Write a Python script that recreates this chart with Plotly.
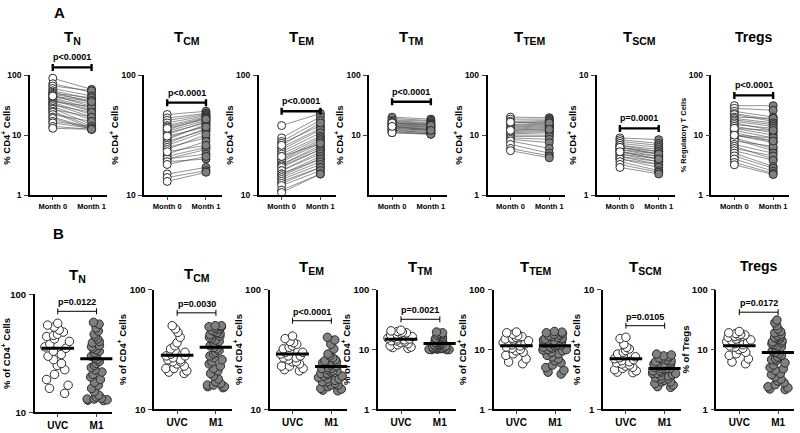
import numpy as np
import plotly.graph_objects as go

W, H = 800, 433
FONT = "Liberation Sans, Arial, sans-serif"

titles = ["T<sub>N</sub>", "T<sub>CM</sub>", "T<sub>EM</sub>", "T<sub>TM</sub>",
          "T<sub>TEM</sub>", "T<sub>SCM</sub>", "Tregs"]

# ---- panel A: paired Month 0 / Month 1 ----
groups_a = ["Month 0", "Month 1"]
tn_m0 = [89, 72, 66, 60, 55, 52, 50, 48, 46, 44, 42, 40, 38, 36, 35, 33, 32, 30, 28, 27,
         25, 24, 22, 20, 19, 17, 16, 14, 13, 45]
tn_m1 = [58, 52, 55, 45, 40, 35, 42, 38, 30, 33, 28, 26, 25, 30, 22, 20, 24, 18, 15, 20,
         14, 13, 17, 13, 12.5, 14, 13, 12.5, 12.5, 36]
tcm_m0 = [47, 44, 42, 40, 38, 37, 35, 34, 33, 32, 30, 29, 28, 27, 26, 25, 24, 22, 21, 20,
          20, 19, 18, 15, 14, 13, 36, 31, 23]
tcm_m1 = [50, 48, 47, 46, 45, 44, 44, 42, 40, 41, 38, 39, 35, 36, 34, 30, 32, 28, 25, 24,
          22, 20, 21, 17, 16, 15.5, 43, 37, 26]
tem_m0 = [38, 30, 28, 27, 25, 24, 23, 22, 21, 20, 19.5, 19, 18, 18, 17.5, 17, 16, 16, 15, 15,
          14.5, 14, 13.5, 13, 12.5, 12, 11, 10.5, 26, 21]
tem_m1 = [48, 45, 42, 38, 36, 35, 33, 31, 30, 29, 28, 27, 26, 25, 24, 24, 23, 22, 21, 20,
          20, 19, 18, 17, 17, 16, 15, 15, 40, 27]
ttm_m0 = [20, 19, 18, 17.5, 17, 16.5, 16, 15.5, 15, 15, 14.5, 14, 14, 13.5, 13, 13, 12.5, 12,
          12, 11.5, 11, 11, 16, 14]
ttm_m1 = [18.5, 17.5, 17, 16, 15.5, 15, 15, 14.5, 14, 13.5, 13.5, 13, 12.5, 12.5, 12, 12, 11.5,
          11, 11, 10.5, 10.5, 10.3, 14.5, 12]
ttem_m0 = [20, 18.5, 17, 16, 15, 14.5, 14, 13.5, 13, 12.5, 12, 11.5, 11, 10.5, 10, 9.5, 9, 8.5,
           8, 7, 6, 5.5, 16.5, 12]
ttem_m1 = [19.5, 18.5, 17.5, 17, 16, 15.5, 15, 14.5, 14, 13.5, 13, 12, 11.5, 11, 10, 9.5, 8.5,
           7.5, 6, 5, 4.5, 4.2, 16, 12.5]
tscm_m0 = [3.0, 2.9, 2.8, 2.7, 2.6, 2.6, 2.5, 2.5, 2.4, 2.4, 2.3, 2.3, 2.2, 2.2, 2.1, 2.1, 2.0,
           2.0, 1.9, 1.8, 1.7, 2.5, 2.3]
tscm_m1 = [2.9, 2.7, 2.6, 2.5, 2.4, 2.3, 2.3, 2.2, 2.2, 2.1, 2.1, 2.0, 2.0, 1.9, 1.9, 1.8, 1.8,
           1.7, 1.6, 1.55, 1.5, 2.2, 2.0]
treg_m0 = [31, 28, 25, 23, 22, 20, 19, 18, 17, 16, 15, 14, 13, 12, 11, 10, 10, 9, 8.5, 8, 7,
           6.5, 6, 5.5, 5, 4.5, 4, 3.5, 3.2, 13, 10]
treg_m1 = [31, 26, 20, 18, 17, 19, 16, 15, 14, 12, 13, 11, 10, 9, 8, 7.5, 9, 6, 5.5, 6.5, 5, 4,
           4.5, 3.8, 3, 2.8, 2.5, 2.3, 2.2, 12, 8]
pairs_a = [(tn_m0, tn_m1), (tcm_m0, tcm_m1), (tem_m0, tem_m1), (ttm_m0, ttm_m1),
           (ttem_m0, ttem_m1), (tscm_m0, tscm_m1), (treg_m0, treg_m1)]
pval_a = ["p<0.0001", "p<0.0001", "p<0.0001", "p<0.0001", None, "p=0.0001", "p<0.0001"]
bracket_a = [135, 59, 50, 36, None, 3.6, 46]
yrange_a = [(1, 100), (10, 100), (10, 100), (1, 100), (1, 100), (1, 10), (1, 100)]
ytitle_a = ["% CD4<sup>+</sup> Cells"] * 6 + ["% Regulatory T Cells"]

# ---- panel B: UVC vs M1 ----
groups_b = ["UVC", "M1"]
tn_uvc = [57, 55, 53, 50, 48, 46, 45, 44, 42, 40, 38, 36, 35, 33, 31, 30, 28, 26, 25, 23, 21,
          19, 17, 16, 14.5]
tn_m1b = [58, 56, 52, 49, 46, 44, 42, 40, 39, 37, 36, 35, 34, 33, 32, 31, 30, 29, 28, 27, 26,
          25, 24, 23, 22, 21, 20, 19, 18, 17, 16, 15, 14, 13.5, 13, 13, 12.8, 12.7, 12.6, 13.2]
tcm_uvc = [50, 47, 44, 40, 36, 34, 32, 31, 30, 29, 28, 28, 27, 26, 26, 25, 25, 24, 23, 22, 22,
           21, 20.5, 20]
tcm_m1b = [50, 50, 49, 49, 48, 47, 46, 45, 44, 43, 42, 41, 40, 39, 38, 37, 36, 35, 34, 33, 32,
           31, 30, 29, 28, 27, 26, 25, 24, 23, 22, 21, 20, 19, 18, 17, 16.5, 16, 15.5, 15.2,
           15.5, 16]
tem_uvc = [41, 39, 37, 36, 35, 34, 33, 32, 31, 30, 30, 29, 28, 28, 27, 27, 26, 25, 25, 24, 23,
           23, 22, 21.5, 21]
tem_m1b = [40, 38, 35, 32, 29, 28, 27, 26, 25.5, 25, 24.5, 24, 23.5, 23, 22.5, 22, 22, 21.5, 21,
           21, 20.5, 20, 20, 19.5, 19, 19, 18.5, 18, 18, 17.5, 17, 17, 16.5, 16, 16, 15.5, 15,
           14.8, 14.5, 14.3]
ttm_uvc = [21, 20.5, 20, 19.5, 19, 18.5, 18, 17.5, 17, 16.5, 16, 15.5, 15, 15, 14.5, 14, 14,
           13.5, 13, 12.5, 12, 11.5, 11, 10.8, 10.5]
ttm_m1b = [19.6, 19, 18.5, 18, 17.5, 17, 16.5, 16, 15.5, 15, 14.8, 14.5, 14.2, 14, 13.8, 13.5,
           13.2, 13, 12.8, 12.5, 12.2, 12, 11.8, 11.5, 11.2, 11, 10.8, 10.6, 10.5, 10.4, 10.3,
           10.2, 10.1, 10, 10, 10, 10.2, 10.4, 11, 12]
ttem_uvc = [19.6, 19, 18, 17, 16.5, 16, 15.5, 15, 14.5, 14, 13.5, 13, 12.5, 12, 11.5, 11, 10.5,
            10, 9.5, 9, 8.5, 8, 7, 6.2, 5.8]
ttem_m1b = [20, 19.5, 19, 18.5, 18, 17.5, 17, 16.5, 16, 15.5, 15, 15, 14.5, 14, 14, 13.5, 13, 13,
            12.5, 12, 12, 11.5, 11, 11, 10.5, 10, 10, 9.5, 9, 8.5, 8, 7.5, 7, 6.5, 6, 5.5, 5,
            4.5, 4.2, 3.9, 9.8, 12.8]
tscm_uvc = [4.0, 3.9, 3.5, 3.3, 3.2, 3.1, 3.0, 2.9, 2.8, 2.75, 2.7, 2.65, 2.6, 2.55, 2.5, 2.45,
            2.4, 2.35, 2.3, 2.25, 2.2, 2.15, 2.1, 2.05, 2.03]
tscm_m1b = [2.9, 2.85, 2.8, 2.75, 2.7, 2.65, 2.6, 2.55, 2.5, 2.45, 2.4, 2.4, 2.35, 2.3, 2.3, 2.25,
            2.2, 2.2, 2.15, 2.1, 2.1, 2.05, 2.0, 2.0, 1.95, 1.9, 1.9, 1.85, 1.8, 1.8, 1.75, 1.7,
            1.7, 1.65, 1.6, 1.55, 1.53, 2.0, 2.2, 2.4]
treg_uvc = [20, 19, 18.5, 18, 17.5, 17, 16.5, 16, 15, 14.5, 14, 13.5, 13, 12.5, 12, 11.5, 11,
            10.5, 10, 9, 8.5, 8, 7, 6.2, 5.8]
treg_m1b = [31, 28, 25, 22, 20, 19, 18, 17, 16.5, 16, 15.5, 15, 14, 13.5, 13, 12.5, 12, 11.5, 11,
            10.5, 10, 9.5, 9, 8.5, 8, 7.5, 7, 6.8, 6.5, 6, 5.5, 5, 4.8, 4.5, 4, 3.8, 3.5, 3.2,
            3, 2.8, 2.6, 2.4, 2.3, 2.2, 2.15]
sets_b = [(tn_uvc, tn_m1b), (tcm_uvc, tcm_m1b), (tem_uvc, tem_m1b), (ttm_uvc, ttm_m1b),
          (ttem_uvc, ttem_m1b), (tscm_uvc, tscm_m1b), (treg_uvc, treg_m1b)]
means_b = [(35, 28.5), (28.3, 33), (29, 22.8), (14.9, 12.6), (11.6, 11.6), (2.65, 2.2), (11.6, 8.9)]
pval_b = ["p=0.0122", "p=0.0030", "p<0.0001", "p=0.0021", None, "p=0.0105", "p=0.0172"]
bracket_b = [72, 64, 55, 32, None, 5.0, 42]
yrange_b = [(10, 100), (10, 100), (10, 100), (1, 100), (1, 100), (1, 10), (1, 100)]
ytitle_b = ["% of CD4<sup>+</sup> Cells"] * 6 + ["% of Tregs"]

# ---- layout positions (pixels) ----
xa = [26, 141, 256, 367, 486, 596, 711]
xb = [31, 151, 267, 376, 492, 602, 716]
ya = [(71, 194)] * 7
yb = [(296, 417)] + [(291, 414)] * 6
title_ya = [32] * 7
title_yb = [277, 275, 268, 268, 268, 268, 267]
PW = 78
XR = [-0.59, 1.41]

WHITE_MK = dict(color="white", size=8, line=dict(color="#2b2b2b", width=1))
GRAY_MK = dict(color="#808080", size=8, line=dict(color="#2b2b2b", width=1))

fig = go.Figure()
layout = dict(width=W, height=H, margin=dict(l=0, r=0, t=0, b=0),
              plot_bgcolor="white", paper_bgcolor="white", showlegend=False,
              font=dict(family=FONT, color="black"))
annotations, shapes = [], []


def sfx(n):
    return "" if n == 1 else str(n)


def axis_pair(n, x0px, ypx, yr, ytitle, ticktext, top, ytick_hide=None):
    xd = [x0px / W, (x0px + PW) / W]
    yd = [1 - ypx[1] / H, 1 - ypx[0] / H]
    lo, hi = np.log10(yr[0]), np.log10(yr[1])
    tv = [v for v in (1, 10, 100) if yr[0] <= v <= yr[1] and v != ytick_hide]
    ax = dict(domain=xd, anchor="y" + sfx(n), range=XR, tickvals=[0, 1],
              ticktext=ticktext, showline=True, linecolor="black", linewidth=1.6,
              ticks="outside", ticklen=3, tickwidth=1.4, showgrid=False, zeroline=False,
              tickfont=dict(size=7.5 if top else 10, weight="bold"))
    ay = dict(domain=yd, anchor="x" + sfx(n), type="log", range=[lo, hi], tickvals=tv,
              ticktext=[str(v) for v in tv], showline=True, linecolor="black", linewidth=1.6,
              ticks="outside", ticklen=4, tickwidth=1.4, showgrid=False, zeroline=False,
              tickfont=dict(size=8.5 if top else 9.5, weight="bold"), ticklabelstandoff=1,
              title=dict(text=ytitle, standoff=1,
                         font=dict(size=7.5 if "Regulatory" in ytitle else 9.5,
                                   weight="bold")))
    layout["xaxis" + sfx(n)] = ax
    layout["yaxis" + sfx(n)] = ay
    return lo, hi


def bracket(n, val, lo, hi, text, bold):
    if val is None:
        return
    f = (np.log10(val) - lo) / (hi - lo)
    lw = 2.4 if bold else 1
    cap = 3.5 if bold else 3
    common = dict(xref="x" + sfx(n), yref="y" + sfx(n) + " domain",
                  line=dict(color="black", width=lw), layer="above")
    shapes.append(dict(type="line", x0=0, x1=1, y0=f, y1=f, **common))
    for xc in (0, 1):
        shapes.append(dict(type="line", x0=xc, x1=xc, ysizemode="pixel", yanchor=f,
                           y0=-cap, y1=cap, **common))
    annotations.append(dict(xref="x" + sfx(n), yref="y" + sfx(n) + " domain", x=0.5, y=f,
                            text=text, showarrow=False, yanchor="bottom",
                            yshift=3 if bold else 2, font=dict(size=9, weight="bold")))


def title(xref, x, ypx, text, size):
    annotations.append(dict(xref=xref, yref="paper", x=x, y=1 - ypx / H,
                            text=text, showarrow=False, xanchor="center", yanchor="middle",
                            font=dict(size=size, weight="bold")))


# panel A
for i in range(7):
    n = i + 1
    xs, ys = "x" + sfx(n), "y" + sfx(n)
    m0, m1 = pairs_a[i]
    lo, hi = axis_pair(n, xa[i], ya[i], yrange_a[i], ytitle_a[i], groups_a, True,
                       ytick_hide=1 if i == 3 else None)
    lx, ly = [], []
    for a, b in zip(m0, m1):
        lx += [0, 1, None]
        ly += [a, b, None]
    fig.add_trace(go.Scatter(x=lx, y=ly, mode="lines", xaxis=xs, yaxis=ys,
                             line=dict(color="#4a4a4a", width=0.6), hoverinfo="skip"))
    fig.add_trace(go.Scatter(x=[0] * len(m0), y=m0, mode="markers", marker=WHITE_MK,
                             xaxis=xs, yaxis=ys, cliponaxis=False))
    fig.add_trace(go.Scatter(x=[1] * len(m1), y=m1, mode="markers", marker=GRAY_MK,
                             xaxis=xs, yaxis=ys, cliponaxis=False))
    bracket(n, bracket_a[i], lo, hi, pval_a[i], True)
    title(xs, 0.5, title_ya[i], titles[i], 15 if i < 6 else 14)

# panel B
for i in range(7):
    n = i + 8
    xs, ys = "x" + sfx(n), "y" + sfx(n)
    uvc, m1 = sets_b[i]
    lo, hi = axis_pair(n, xb[i], yb[i], yrange_b[i], ytitle_b[i], groups_b, False)
    for k, (vals, mk) in enumerate(((uvc, WHITE_MK), (m1, GRAY_MK))):
        fig.add_trace(go.Box(y=vals, x0=k, xaxis=xs, yaxis=ys, boxpoints="all",
                             jitter=1, pointpos=0, width=0.7,
                             marker=dict(color=mk["color"], size=8.5,
                                         line=dict(color="#2b2b2b", width=1)),
                             line=dict(color="rgba(0,0,0,0)", width=0),
                             fillcolor="rgba(0,0,0,0)", hoverinfo="y"))
    for k, m in enumerate(means_b[i]):
        fig.add_trace(go.Scatter(x=[k - 0.42, k + 0.42], y=[m, m], mode="lines",
                                 line=dict(color="black", width=3), xaxis=xs,
                                 yaxis=ys, hoverinfo="skip"))
    bracket(n, bracket_b[i], lo, hi, pval_b[i], False)
    title(xs, 0.5, title_yb[i], titles[i], 15 if i < 6 else 14)

title("paper", 56 / W, 7, "A", 15)
title("paper", 55 / W, 233, "B", 15)

layout["annotations"] = annotations
layout["shapes"] = shapes
layout["boxmode"] = "overlay"
fig.update_layout(**layout)
fig.write_html("out.html", config={"displayModeBar": False},
               post_script="document.body.style.margin='0';")
